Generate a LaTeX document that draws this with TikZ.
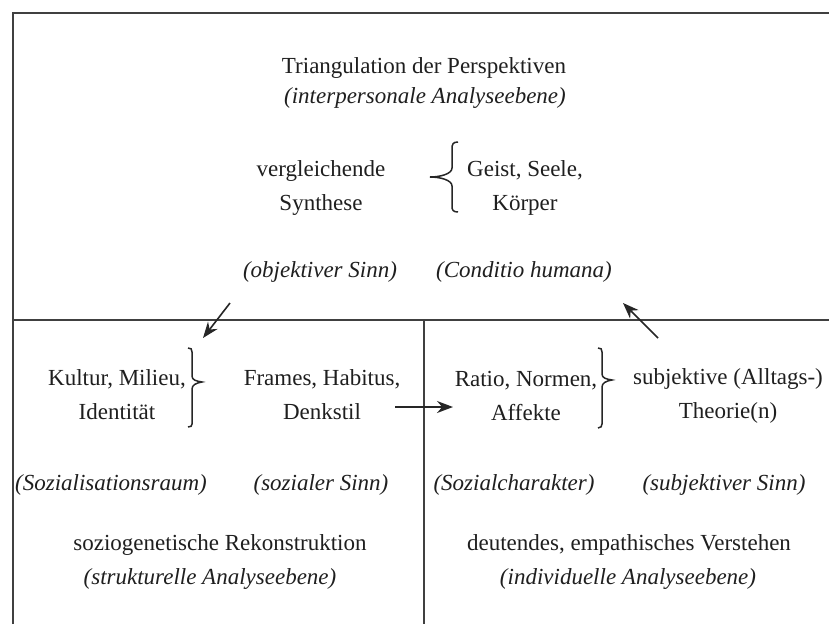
\documentclass[tikz,border=0pt]{standalone}
\usepackage{fontspec}
\setmainfont{Liberation Serif}
\usetikzlibrary{arrows.meta}
\begin{document}
\begin{tikzpicture}[x=1pt,y=-1pt,
  frame/.style={line width=1.8pt, draw=black!75},
  lbl/.style={font=\fontsize{23}{34}\selectfont, text=black!88, align=center, inner sep=0pt},
  ilbl/.style={lbl, font=\fontsize{23}{34}\selectfont\itshape},
  arr/.style={line width=1.6pt, draw=black!85, -{Stealth[length=16pt,width=12pt]}},
  brc/.style={line width=1.5pt, draw=black!85}
]
\useasboundingbox (0,0) rectangle (829,624);
\fill[white] (0,0) rectangle (829,624);
% frame
\draw[frame] (13,624) -- (13,13) -- (829,13);
\draw[frame] (13,320) -- (829,320);
\draw[frame] (424,320) -- (424,624);
% top section
\node[lbl] (title) at (424,68) {Triangulation der Perspektiven};
\node[ilbl] (inter) at (425,98) {(interpersonale Analyseebene)};
\node[lbl] (synth) at (321,188) {vergleichende\\Synthese};
\node[lbl] (geist) at (525,188) {Geist, Seele,\\Körper};
\node[ilbl] (objs) at (320,272) {(objektiver Sinn)};
\node[ilbl] (cond) at (524,272) {(Conditio humana)};
\draw[brc] (458,142) .. controls (453,142) and (452,144) .. (452,149) -- (452,168)
  .. controls (452,174) and (440,177) .. (430,177)
  .. controls (440,177) and (452,180) .. (452,186) -- (452,206)
  .. controls (452,210) and (453,212) .. (458,212);
% lower left
\node[lbl] (kultur) at (117,395) {Kultur, Milieu,\\Identität};
\node[lbl] (frames) at (322,395) {Frames, Habitus,\\Denkstil};
\draw[brc] (188,348) .. controls (191,348) and (192,349) .. (192,352) -- (192,376)
  .. controls (192,380) and (196,381) .. (202,382)
  .. controls (196,383) and (192,385) .. (192,389) -- (192,424)
  .. controls (192,426) and (191,427) .. (188,427);
\node[ilbl] (sozr) at (111,485) {(Sozialisationsraum)};
\node[ilbl] (sozs) at (321,485) {(sozialer Sinn)};
\node[lbl] (rekon) at (220,545) {soziogenetische Rekonstruktion};
\node[ilbl] (strukt) at (210,579) {(strukturelle Analyseebene)};
% lower right
\node[lbl] (ratio) at (526,396) {Ratio, Normen,\\Affekte};
\node[lbl] (subj) at (728,396) {subjektive (Alltags-)\\Theorie(n)};
\draw[brc] (598,348) .. controls (601,348) and (602,349) .. (602,352) -- (602,374)
  .. controls (602,378) and (606,379) .. (612,380)
  .. controls (606,381) and (602,383) .. (602,387) -- (602,424)
  .. controls (602,426) and (601,428) .. (598,428);
\node[ilbl] (sozc) at (514,485) {(Sozialcharakter)};
\node[ilbl] (subs) at (724,485) {(subjektiver Sinn)};
\node[lbl] (verst) at (629,545) {deutendes, empathisches Verstehen};
\node[ilbl] (indiv) at (628,579) {(individuelle Analyseebene)};
% arrows
\coordinate (a1s) at (230,303);
\coordinate (a1e) at (203,338);
\coordinate (a2s) at (658,338);
\coordinate (a2e) at (623,303);
\coordinate (a3s) at (395,407);
\coordinate (a3e) at (453,407);
\draw[arr] (a1s) -- (a1e);
\draw[arr] (a2s) -- (a2e);
\draw[arr] (a3s) -- (a3e);
\end{tikzpicture}
\end{document}
